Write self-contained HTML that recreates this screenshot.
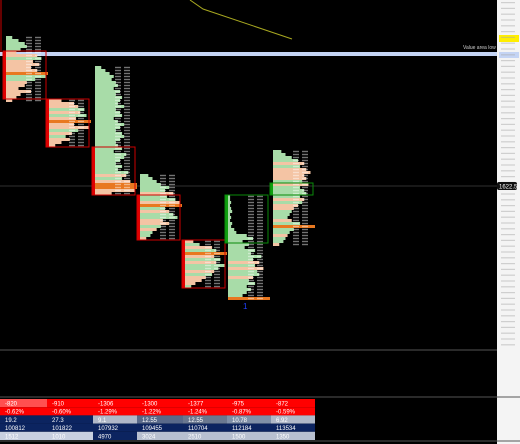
<!DOCTYPE html>
<html><head><meta charset="utf-8"><style>
html,body{margin:0;padding:0;background:#000;width:520px;height:444px;overflow:hidden;font-family:"Liberation Sans",sans-serif}
svg{display:block}
</style></head><body>
<svg id="c" width="520" height="444">
<rect x="0" y="0" width="520" height="444" fill="#000"/>
<rect x="497" y="0" width="23" height="444" fill="#f4f4f4"/>
<polyline points="190,0 203,9 292,39" fill="none" stroke="#a8a820" stroke-width="1"/>
<line x1="1" y1="0" x2="1" y2="52" stroke="#c00"/>
<rect x="0" y="52" width="497" height="4" fill="#c4d4f4"/>
<text x="463" y="49" font-size="5" fill="#ccc">Value area low</text>
<rect x="499" y="35" width="20" height="7" fill="#ffee00"/>
<rect x="499" y="52" width="20" height="6" fill="#c4d4f4"/>
<line x1="0" y1="186" x2="497" y2="186" stroke="#303030"/>
<line x1="0" y1="350" x2="497" y2="350" stroke="#555"/>
<line x1="0" y1="397" x2="520" y2="397" stroke="#555"/>
<line x1="0" y1="441" x2="520" y2="441" stroke="#555"/>
<text x="243" y="309" font-size="8" fill="#2040ff">1</text>
<g id="axis"></g><g id="bars"></g><g id="tbl"></g>
<rect x="497" y="182" width="20" height="8" rx="2" fill="#111"/>
<text x="499" y="188.5" font-size="6" fill="#fff">1622.5</text>
</svg>
<script>
const tops=[1635.0,1629.75,1632.5,1623.5,1618.0,1621.75,1625.5];
const boxOpen=[1633.75,1629.75,1625.75,1621.75,1618.0,1621.75,1622.75];
const boxClose=[1629.75,1625.75,1621.75,1618.0,1614.0,1617.75,1621.75];
const boxColor=['red','red','red','red','red','green','green'];
const colX=[3,46,92,137,182,225,270];
const vols=[
[300,600,900,1000,700,500,1500,1700,1300,1600,1200,1500,1100,1900,1400,1000,900,600,1200,700,500,300],
[600,1200,1400,1700,1500,1800,1300,1600,1200,1900,1400,1100,800,1000,600,300],
[300,500,700,900,800,1000,1100,900,1200,1000,1300,1200,1100,1400,1000,1200,1300,900,1100,1400,1200,1000,1300,1400,1200,1000,1100,1300,900,1500,1400,1200,1000,1300,1100,1600,1500,1300,1700,1500,1200,1900,800],
[400,600,800,1000,1400,1200,1600,1300,1700,1900,1500,1200,1400,1600,1800,1100,1400,1000,800,600,500,300],
[400,700,1300,1500,1800,1400,1700,1500,1900,1600,1400,1300,1000,800,500,300],
[100,100,150,100,150,200,100,150,100,200,150,300,400,900,1200,700,1000,800,1300,1100,1600,1200,1500,1300,1700,1400,1500,1200,1000,1300,900,1100,900,700,400],
[400,600,900,1200,1500,1300,1600,1800,1500,1600,1400,1700,1300,1500,1600,1300,1500,1400,1200,1000,900,800,700,900,1300,1200,1000,800,700,600,500,300]];
const kinds=[
"gggggssgssssoggsssssss",
"sssgsgsossgsgsss",
"ggggggggggggggggggggggggggggggggggggsgsooss",
"ggggggsggsogsggssgsggs",
"sgsgosgsggsgsssg",
"ggggggggggggggggggggggsgsggsggggggo",
"ggggsgssssgsggggsgssgggsgoggsggs"];
const tblRows=[["-820","-910","-1306","-1300","-1377","-975","-872"],["-0.62%","-0.60%","-1.29%","-1.22%","-1.24%","-0.87%","-0.59%"],["19.2","27.3","9.1","12.55","12.55","10.78","6.92"],["100812","101822","107932","109455","110704","112184","113534"],["1512","1010","4970","3024","2510","1500","1350"]];
const tblColors=[["#ff5050","#ff0000","#ff0000","#ff0000","#ff0000","#ff0000","#ff0000"],["#ff0000","#ff0000","#ff0000","#ff0000","#ff0000","#ff0000","#ff0000"],["#0c2460","#0c2460","#b0b8c8","#5a6a8a","#6a7890","#8090a8","#b0b8c8"],["#0c2460","#0c2460","#0c2460","#0c2460","#0c2460","#0c2460","#0c2460"],["#c8d0e0","#c8d0e0","#0c2460","#b8c0d0","#b8c0d0","#b8c0d0","#b8c0d0"]];
const axisTicks=[];for(let i=0;i<60;i++)axisTicks.push(i);
const PTOP=1638,TICK=0.25,ROW=3;
const y=p=>(PTOP-p)/TICK*ROW;
const len=v=>v/48;
const NS="http://www.w3.org/2000/svg";
function mk(t,a,par){const e=document.createElementNS(NS,t);for(const k in a)e.setAttribute(k,a[k]);par.appendChild(e);return e;}
const G=document.getElementById('bars');
const col={g:'#a8dca8',s:'#f4c4a4',o:'#e87820'};
for(let c=0;c<tops.length;c++){
  const x0=colX[c];
  const by0=y(boxOpen[c]),by1=y(boxClose[c]);
  const bc=boxColor[c]=='red'?'#e00000':'#10a010';
  for(let r=0;r<vols[c].length;r++){
    const yy=y(tops[c]-r*TICK);
    const k=kinds[c][r];
    const w=k=='o'?42:len(vols[c][r]);
    const b=mk('rect',{x:x0+3,y:yy,width:w,height:ROW,fill:col[k]},G);
    
    
    const t1=mk('rect',{x:x0+23,y:yy+0.8,width:6,height:1.4,fill:'#fff',opacity:0.45},G);
    
    
    const t2=mk('rect',{x:x0+32,y:yy+0.8,width:6,height:1.4,fill:'#fff',opacity:0.45},G);
    
    
  }
  const lb=mk('rect',{x:x0,y:Math.min(by0,by1),width:3,height:Math.abs(by1-by0)||3,fill:bc},G);
  
  
  const bx=mk('rect',{x:x0,y:Math.min(by0,by1),width:43,height:Math.abs(by1-by0)||3,fill:'none',stroke:boxColor[c]=='red'?'#c00':'#0a8a0a','stroke-width':1},G);
  
  
}
const A=document.getElementById('axis');
for(const i of axisTicks){
  const t=mk('rect',{x:501,y:2+i*5.8,width:14,height:1.2,fill:'#aaa',opacity:0.5},A);
  
  
}
const T=document.getElementById('tbl');
const cx=[0,47,93,137,183,227,271,315];
for(let r=0;r<tblRows.length;r++){
  for(let c=0;c<7;c++){
    const ry=399+r*8.2;
    const cell=mk('rect',{x:cx[c],y:ry,width:cx[c+1]-cx[c],height:8.2,fill:tblColors[r][c]},T);
    
    
    const tx=mk('text',{x:cx[c]+5,y:ry+6.5,'font-size':6,fill:'#fff'},T);
    tx.textContent=tblRows[r][c];
    
    
  }
}
</script>
</body></html>
